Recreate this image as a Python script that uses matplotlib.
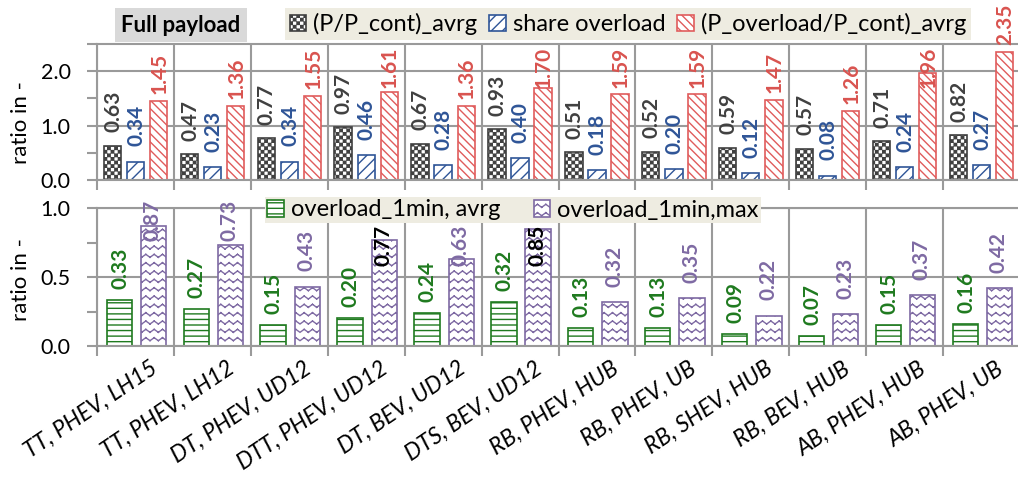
import numpy as np
import matplotlib
matplotlib.use("Agg")
import matplotlib.pyplot as plt
import matplotlib.hatch as mhatch
import matplotlib.transforms as mtrans
from matplotlib.path import Path

# ---------------- data ----------------
categories = ["TT, PHEV, LH15", "TT, PHEV, LH12", "DT, PHEV, UD12", "DTT, PHEV, UD12",
              "DT, BEV, UD12", "DTS, BEV, UD12", "RB, PHEV, HUB", "RB, PHEV, UB",
              "RB, SHEV, HUB", "RB, BEV, HUB", "AB, PHEV, HUB", "AB, PHEV, UB"]
p_avrg = [0.63, 0.47, 0.77, 0.97, 0.67, 0.93, 0.51, 0.52, 0.59, 0.57, 0.71, 0.82]
share_overload = [0.34, 0.23, 0.34, 0.46, 0.28, 0.40, 0.18, 0.20, 0.12, 0.08, 0.24, 0.27]
p_overload_avrg = [1.45, 1.36, 1.55, 1.61, 1.36, 1.70, 1.59, 1.59, 1.47, 1.26, 1.96, 2.35]
ol1_avrg = [0.33, 0.27, 0.15, 0.20, 0.24, 0.32, 0.13, 0.13, 0.09, 0.07, 0.15, 0.16]
ol1_max = [0.87, 0.73, 0.43, 0.77, 0.63, 0.85, 0.32, 0.35, 0.22, 0.23, 0.37, 0.42]
top_labels = ["(P/P_cont)_avrg", "share overload", "(P_overload/P_cont)_avrg"]
bottom_labels = ["overload_1min, avrg", "overload_1min,max"]
# labels drawn in black instead of series colour (as in the original)
black_label_max = {3, 5}


# ---------------- custom hatches (checker + zigzag) ----------------
class CheckerHatch(mhatch.HatchPatternBase):
    def __init__(self, hatch, density):
        self.n = 28 if hatch.count('*') else 0
        self.num_vertices = (self.n * self.n // 2) * 5

    def set_vertices_and_codes(self, vertices, codes):
        n = self.n
        d = 0.0055
        v = []
        for r in range(n):
            for c in range(n):
                if (r + c) % 2 == 0:
                    x0, y0 = c / n + d, r / n + d
                    x1, y1 = (c + 1) / n - d, (r + 1) / n - d
                    v.extend([(x0, y0), (x1, y0), (x1, y1), (x0, y1), (x0, y0)])
        vertices[:] = np.array(v)
        codes[:] = np.tile([Path.MOVETO, Path.LINETO, Path.LINETO, Path.LINETO,
                            Path.CLOSEPOLY], len(v) // 5)


class ZigzagHatch(mhatch.HatchPatternBase):
    def __init__(self, hatch, density):
        self.rows = 12 if hatch.count('o') else 0
        self.per = 12
        self.num_vertices = self.rows * self.per * 4

    def set_vertices_and_codes(self, vertices, codes):
        amp = 0.03
        v = []
        for r in range(self.rows):
            y = r / self.rows + 0.01
            for k in range(self.per):
                x0 = k / self.per
                xm = (k + 0.5) / self.per
                x1 = (k + 1) / self.per
                v += [(x0, y), (xm, y + amp), (xm, y + amp), (x1, y)]
        vertices[:] = np.array(v)
        codes[:] = np.tile([Path.MOVETO, Path.LINETO], len(v) // 2)


mhatch._hatch_types = [t for t in mhatch._hatch_types
                       if t not in (mhatch.Stars, mhatch.SmallCircles)] + [CheckerHatch, ZigzagHatch]

# ---------------- style ----------------
plt.rcParams['font.family'] = ['Lato', 'DejaVu Sans']
plt.rcParams['hatch.linewidth'] = 1.0

C_BLACK = '#404040'
C_BLUE = '#2F5597'
C_RED = '#E05C5C'
C_RED_T = '#D9534F'
C_GREEN = '#1F7A1F'
C_PURPLE = '#7E6AA3'
C_GRID = '#9A9A9A'
C_LEG = '#EEECE1'

W, H = 1018, 479
fig = plt.figure(figsize=(W / 100, H / 100), dpi=100)
ax1 = fig.add_axes([97 / W, 1 - 180 / H, 923 / W, 136 / H])
ax2 = fig.add_axes([97 / W, 1 - 346 / H, 923 / W, 138 / H])

x = np.arange(len(categories))

for ax in (ax1, ax2):
    ax.set_xlim(-0.5, len(categories) - 0.5)
    ax.set_xticks(x)
    ax.set_xticks(np.arange(-0.5, len(categories), 1.0), minor=True)
    ax.tick_params(axis='x', which='major', length=0)
    ax.tick_params(axis='x', which='minor', length=7, width=1.5, color=C_GRID)
    ax.tick_params(axis='y', which='both', length=7, width=1.5, color=C_GRID,
                   labelsize=15.5, pad=12)
    ax.grid(axis='x', which='minor', color=C_GRID, lw=1.5)
    ax.grid(axis='y', which='major', color=C_GRID, lw=1.5)
    ax.set_axisbelow(True)
    for s in ('left', 'top', 'bottom'):
        ax.spines[s].set_color(C_GRID)
        ax.spines[s].set_linewidth(1.5)
    ax.spines['right'].set_visible(False)

# ---- top panel ----
bw = 0.225
b1 = ax1.bar(x - 0.3, p_avrg, bw, facecolor='white', edgecolor=C_BLACK, hatch='*',
             lw=1.2, label=top_labels[0])
b2 = ax1.bar(x, share_overload, bw, facecolor='white', edgecolor=C_BLUE, hatch='///',
             lw=1.2, label=top_labels[1])
b3 = ax1.bar(x + 0.3, p_overload_avrg, bw, facecolor='white', edgecolor=C_RED,
             hatch='\\\\\\\\', lw=1.2, label=top_labels[2])
ax1.set_ylim(0, 2.5)
ax1.set_yticks([0, 1, 2])
ax1.set_yticklabels(['0.0', '1.0', '2.0'])
ax1.set_yticks([0.5, 1.5, 2.5], minor=True)
ax1.tick_params(axis='x', labelbottom=False)

LEG2_X = (3.1, 8.8)   # data-x span covered by the lower legend


def put_labels(ax, xs, vals, off, h, lim, color, special=None, lim_under=None):
    for i, (xx, v) in enumerate(zip(xs, vals)):
        top = lim
        if lim_under is not None and LEG2_X[0] <= xx <= LEG2_X[1]:
            top = lim_under
        y = v + off
        if y + h > top and v < top - h + 0.3:
            y = top - h
        col = 'black' if (special and i in special) else color
        ax.text(xx, y, f"{v:.2f}", rotation=90, ha='center', va='bottom',
                fontsize=15, fontweight='bold', color=col, clip_on=False, zorder=5)


put_labels(ax1, x - 0.29, p_avrg, 0.25, 0.72, 9, C_BLACK)
put_labels(ax1, x + 0.01, share_overload, 0.28, 0.72, 9, C_BLUE)
put_labels(ax1, x + 0.31, p_overload_avrg, 0.13, 0.72, 2.42, C_RED_T)

# ---- bottom panel ----
bw2 = 0.33
g1 = ax2.bar(x - 0.21, ol1_avrg, bw2, facecolor='white', edgecolor=C_GREEN, hatch='---',
             lw=1.2, label=bottom_labels[0])
g2 = ax2.bar(x + 0.235, ol1_max, bw2, facecolor='white', edgecolor=C_PURPLE, hatch='o',
             lw=1.2, label=bottom_labels[1])
ax2.set_ylim(0, 1.0)
ax2.set_yticks([0, 0.5, 1.0])
ax2.set_yticklabels(['0.0', '0.5', '1.0'])
ax2.set_yticks([0.25, 0.75], minor=True)

put_labels(ax2, x - 0.2, ol1_avrg, 0.08, 0.28, 9, C_GREEN)
put_labels(ax2, x + 0.225, ol1_max, 0.11, 0.28, 1.04, C_PURPLE, special=black_label_max,
           lim_under=0.86)

ax2.set_xticklabels(categories, rotation=34, ha='right', va='top',
                    rotation_mode='anchor', fontsize=16.5, fontstyle='italic')
off = mtrans.ScaledTranslation(14 / 100, -7 / 100, fig.dpi_scale_trans)
for lab in ax2.get_xticklabels():
    lab.set_transform(lab.get_transform() + off)

# ---- legends and texts ----
leg1 = fig.legend(handles=[b1, b2, b3], labels=top_labels, ncol=3, loc='center',
                  bbox_to_anchor=(628 / W, 1 - 24 / H), fontsize=17,
                  handlelength=0.7, handleheight=0.7, handletextpad=0.3,
                  columnspacing=0.5, borderpad=0.2, frameon=True, fancybox=False)
leg1.get_frame().set_facecolor(C_LEG)
leg1.get_frame().set_edgecolor('none')
leg1.get_frame().set_alpha(1)

leg2 = fig.legend(handles=[g1, g2], labels=bottom_labels, ncol=2, loc='center',
                  bbox_to_anchor=(513 / W, 1 - 210 / H), fontsize=17,
                  handlelength=0.7, handleheight=0.7, handletextpad=0.3,
                  columnspacing=1.4, borderpad=0.12, frameon=True, fancybox=False)
leg2.get_frame().set_facecolor(C_LEG)
leg2.get_frame().set_edgecolor('none')
leg2.get_frame().set_alpha(1)

fig.text(181 / W, 1 - 25 / H, "Full payload", ha='center', va='center', fontsize=16,
         fontweight='bold', bbox=dict(boxstyle='square,pad=0.28', facecolor='#D9D9D9',
                                      edgecolor='none'))
fig.text(21 / W, 1 - 123 / H, "ratio in -", rotation=90, ha='center', va='center',
         fontsize=16)
fig.text(21 / W, 1 - 280 / H, "ratio in -", rotation=90, ha='center', va='center',
         fontsize=16)

fig.savefig("out.png", dpi=100)
